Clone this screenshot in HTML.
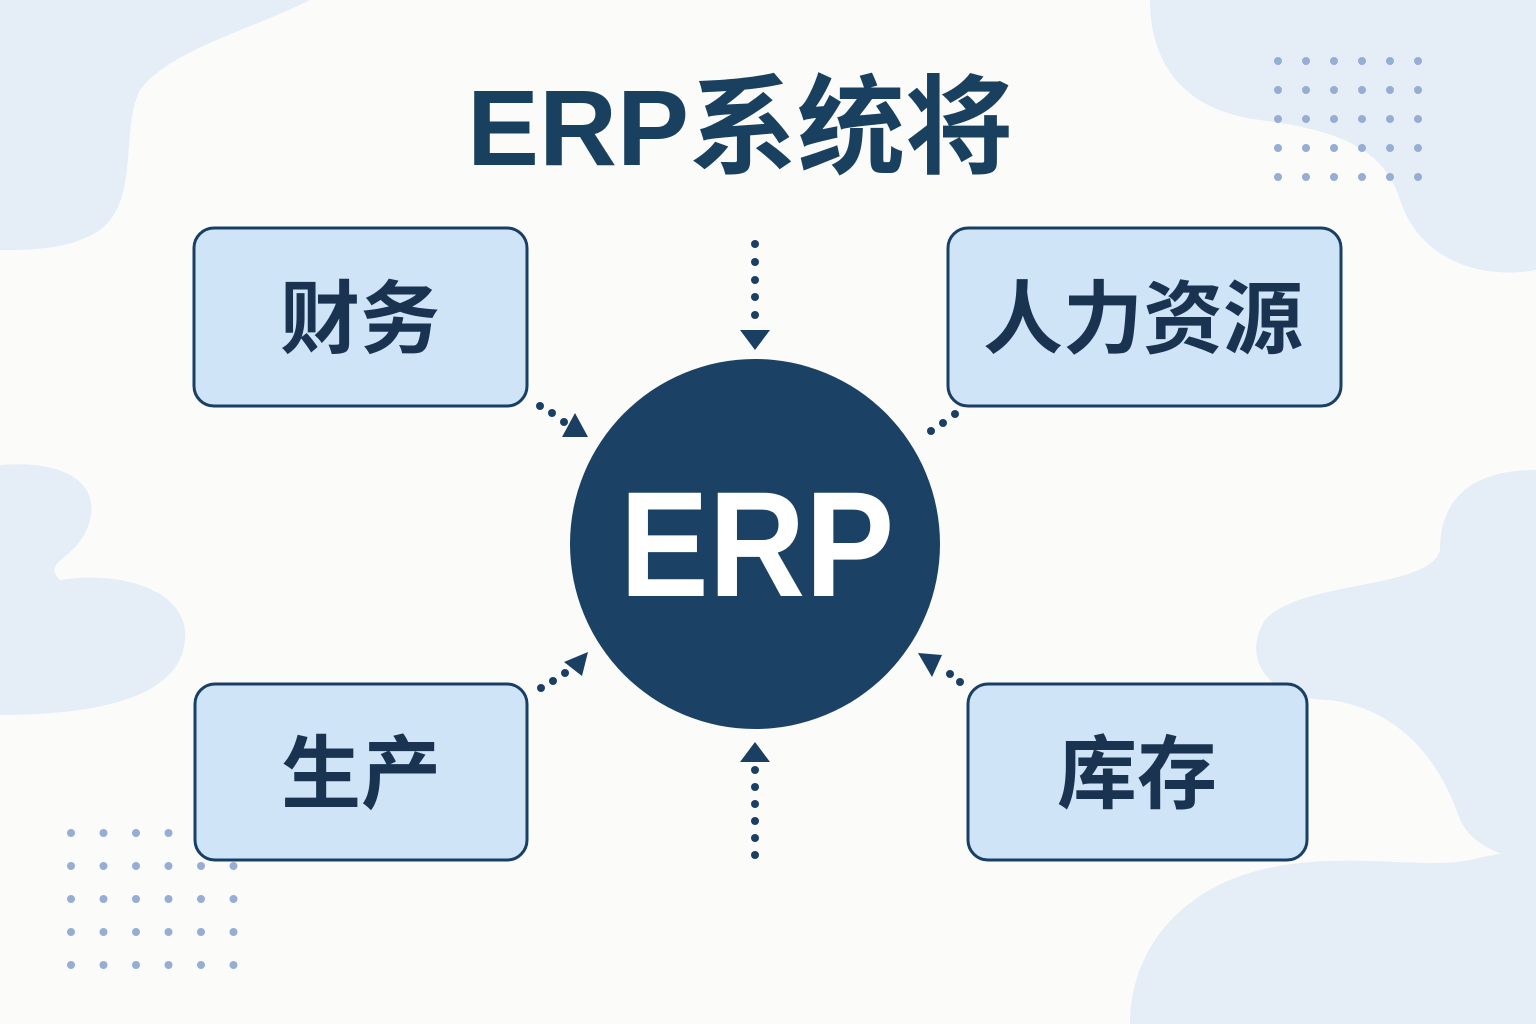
<!DOCTYPE html>
<html><head><meta charset="utf-8"><style>
html,body{margin:0;padding:0;width:1536px;height:1024px;overflow:hidden;background:#fbfbfa}
svg{display:block}
text{font-family:"Liberation Sans","Noto Sans CJK SC",sans-serif;font-weight:bold}
</style></head><body>
<svg width="1536" height="1024" viewBox="0 0 1536 1024">
<g fill="#e5eef7">
<path d="M0 0H310C250 30 170 50 140 90C120 130 140 200 100 230C70 250 30 250 0 250Z"/>
<path d="M1150 0H1536V270C1480 280 1420 260 1400 200C1385 150 1340 130 1260 120C1180 110 1150 60 1150 0Z"/>
<path d="M0 465C60 460 100 480 90 520C80 560 40 560 60 580C120 570 190 590 185 640C180 700 90 715 0 715Z"/>
<path d="M1536 470C1470 470 1440 500 1440 550C1430 590 1300 580 1265 620C1240 660 1270 700 1330 700C1400 710 1440 760 1460 820C1480 860 1536 860 1536 860Z"/>
<path d="M1130 1024C1130 950 1180 890 1260 870C1340 850 1420 870 1470 860C1510 850 1536 850 1536 850V1024Z"/>
</g>
<g fill="#96aed3" id="dots"></g>
<text x="740" y="165" font-size="108" fill="#1a4060" text-anchor="middle">ERP系统将</text>
<g stroke="#1a3f64" stroke-width="3" fill="#cfe4f7">
<rect x="194" y="228" width="333" height="178" rx="20"/>
<rect x="948" y="228" width="393" height="178" rx="20"/>
<rect x="195" y="684" width="332" height="176" rx="20"/>
<rect x="968" y="684" width="339" height="176" rx="20"/>
</g>
<g font-size="80" fill="#1a3350" text-anchor="middle">
<text x="360" y="347">财务</text>
<text x="1143" y="347">人力资源</text>
<text x="361" y="802">生产</text>
<text x="1137" y="802">库存</text>
</g>
<circle cx="755" cy="544" r="185" fill="#1b4264"/>
<text transform="translate(757 596) scale(0.89 1)" font-size="150" fill="#fff" text-anchor="middle">ERP</text>
<g fill="#1b3f63">
<circle cx="755" cy="244" r="4"/><circle cx="755" cy="262" r="4"/><circle cx="755" cy="280" r="4"/><circle cx="755" cy="297" r="4"/><circle cx="755" cy="315" r="4"/>
<path d="M740 330H770L755 350Z"/>
<circle cx="755" cy="855" r="4"/><circle cx="755" cy="838" r="4"/><circle cx="755" cy="821" r="4"/><circle cx="755" cy="804" r="4"/><circle cx="755" cy="787" r="4"/><circle cx="755" cy="770" r="4"/>
<path d="M740 762H770L755 742Z"/>
<circle cx="540" cy="406" r="4"/><circle cx="552" cy="413" r="4"/><circle cx="564" cy="422" r="4"/>
<path d="M562 437H588L575 413Z"/>
<circle cx="541" cy="688" r="4"/><circle cx="553" cy="681" r="4"/><circle cx="565" cy="673" r="4"/>
<path d="M564 662L588 652L582 676Z"/>
<circle cx="931" cy="431" r="4"/><circle cx="943" cy="423" r="4"/><circle cx="955" cy="414" r="4"/>
<circle cx="960" cy="682" r="4"/><circle cx="950" cy="674" r="4"/>
<path d="M918 653L942 655L932 677Z"/>
</g>
</svg>
<script>
var ns="http://www.w3.org/2000/svg",g=document.getElementById("dots");
function grid(x0,y0,dx,dy){for(var i=0;i<6;i++)for(var j=0;j<5;j++){var c=document.createElementNS(ns,"circle");c.setAttribute("cx",x0+i*dx);c.setAttribute("cy",y0+j*dy);c.setAttribute("r",4);g.appendChild(c);}}
grid(1278,61,28,29);grid(71,833,32.5,33);
</script>
</body></html>
